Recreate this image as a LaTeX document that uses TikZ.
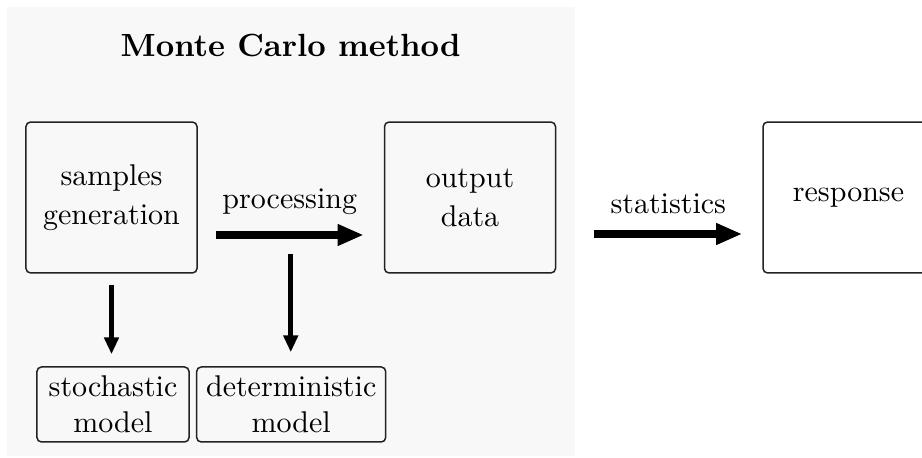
\documentclass[tikz,border=0pt]{standalone}
\usetikzlibrary{arrows.meta,calc}
\definecolor{bggray}{HTML}{F8F8F8}
\definecolor{edgecol}{HTML}{222222}
\begin{document}
\begin{tikzpicture}[x=0.33333pt,y=-0.33333pt,
  bigbox/.style={draw=edgecol, line width=0.5pt, rounded corners=1.5pt, minimum width=57pt, minimum height=50.3pt, align=center, inner sep=0pt, font=\fontsize{10}{13}\selectfont},
  smallbox/.style={draw=edgecol, line width=0.5pt, rounded corners=1.5pt, minimum height=25pt, align=center, inner sep=0pt},
  bigarrow/.style={line width=2.8pt, -{Triangle[length=8.7pt,width=6.7pt]}},
  medarrow/.style={line width=1.7pt, -{Triangle[length=5.6pt,width=4.7pt]}},
  lbl/.style={inner sep=3.33pt}]
\clip (0,0) rectangle (922,458);
\useasboundingbox (0,0) rectangle (922,458);
\fill[bggray] (7,7.5) rectangle (575,456);
\node[font=\fontsize{10.7}{13}\selectfont\bfseries, anchor=base] (title) at (290.7,57) {Monte Carlo method};
\node[bigbox] (samples) at (111.5,197.5) {samples\\generation};
\node[bigbox] (output) at (470,197.5) {output\\data};
\node[bigbox] (response) at (848.5,197.5) {response};
\node[smallbox, minimum width=50.7pt] (stoch) at (113,404.5) {stochastic\\model};
\node[smallbox, minimum width=63pt] (determ) at (291.2,404.5) {deterministic\\model};
\draw[bigarrow] ($(samples.east)+(18,37.5)$) -- ($(output.west)+(-20,37.5)$) node[lbl, midway, above=2pt] (proc) {processing};
\coordinate (pmid) at ($(samples.east)!0.5!(output.west)+(0,37.5)$);
\draw[bigarrow] ($(output.east)+(38,36.5)$) -- ($(response.west)+(-20,36.5)$) node[lbl, midway, above=2pt] (stat) {statistics};
\draw[medarrow] ($(samples.south)+(0,11)$) -- ($(samples.south |- stoch.north)+(0,-12)$);
\draw[medarrow] ($(pmid)+(0,19)$) -- ($(pmid |- determ.north)+(0,-14)$);
\end{tikzpicture}
\end{document}
